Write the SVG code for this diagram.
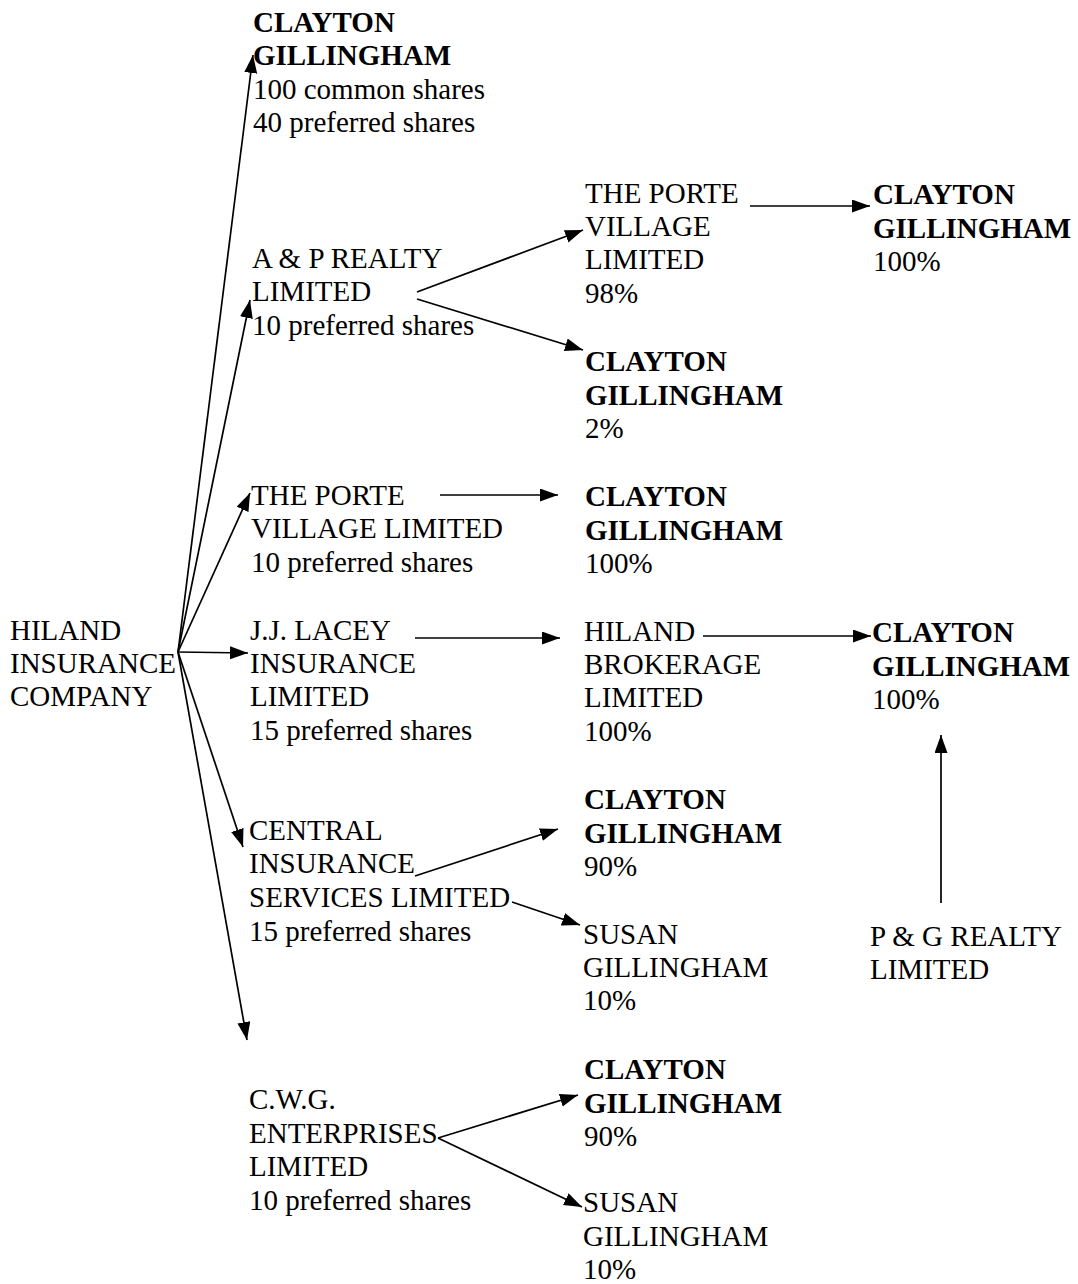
<svg xmlns="http://www.w3.org/2000/svg" width="1078" height="1284" viewBox="0 0 1078 1284">
<style>
text{font-family:"Liberation Serif","Times New Roman",serif;font-size:29px;fill:#000}
.b{font-weight:bold}
.c line{stroke:#000;stroke-width:1.7;marker-end:url(#ah)}
</style>
<defs>
<marker id="ah" markerUnits="userSpaceOnUse" markerWidth="19" markerHeight="14" refX="18" refY="6.5" orient="auto">
<path d="M0,0 L18,6.5 L0,13 z" fill="#000"/>
</marker>
</defs>
<rect width="1078" height="1284" fill="#fff"/>
<g class="c" id="connectors">
<line x1="178" y1="652" x2="253" y2="55"/>
<line x1="178" y1="652" x2="250" y2="300"/>
<line x1="178" y1="652" x2="250" y2="493"/>
<line x1="178" y1="652" x2="248" y2="653"/>
<line x1="178" y1="652" x2="243" y2="847"/>
<line x1="178" y1="652" x2="247" y2="1040"/>
<line x1="417" y1="292" x2="583" y2="230"/>
<line x1="417" y1="299" x2="583" y2="350"/>
<line x1="750" y1="206" x2="870" y2="206"/>
<line x1="440" y1="495" x2="558" y2="495"/>
<line x1="415" y1="638" x2="560" y2="638"/>
<line x1="703" y1="636" x2="871" y2="636"/>
<line x1="941" y1="903" x2="941" y2="735"/>
<line x1="415" y1="876" x2="558" y2="829"/>
<line x1="512" y1="902" x2="580" y2="925"/>
<line x1="438" y1="1138" x2="578" y2="1095"/>
<line x1="438" y1="1138" x2="582" y2="1207"/>
</g>
<g id="n-clayton-top"><text x="253" y="32" class="b">CLAYTON</text><text x="253" y="65" class="b">GILLINGHAM</text><text x="253" y="99">100 common shares</text><text x="253" y="132">40 preferred shares</text></g>
<g id="n-ap-realty"><text x="252" y="268">A &amp; P REALTY</text><text x="252" y="301">LIMITED</text><text x="252" y="335">10 preferred shares</text></g>
<g id="n-porte-98"><text x="585" y="203">THE PORTE</text><text x="585" y="236">VILLAGE</text><text x="585" y="269">LIMITED</text><text x="585" y="303">98%</text></g>
<g id="n-clayton-100a"><text x="873" y="204" class="b">CLAYTON</text><text x="873" y="238" class="b">GILLINGHAM</text><text x="873" y="271">100%</text></g>
<g id="n-clayton-2"><text x="585" y="371" class="b">CLAYTON</text><text x="585" y="405" class="b">GILLINGHAM</text><text x="585" y="438">2%</text></g>
<g id="n-porte-left"><text x="251" y="505">THE PORTE</text><text x="251" y="538">VILLAGE LIMITED</text><text x="251" y="572">10 preferred shares</text></g>
<g id="n-clayton-100b"><text x="585" y="506" class="b">CLAYTON</text><text x="585" y="540" class="b">GILLINGHAM</text><text x="585" y="573">100%</text></g>
<g id="n-hiland"><text x="10" y="640">HILAND</text><text x="10" y="673">INSURANCE</text><text x="10" y="706">COMPANY</text></g>
<g id="n-jjlacey"><text x="250" y="640">J.J. LACEY</text><text x="250" y="673">INSURANCE</text><text x="250" y="706">LIMITED</text><text x="250" y="740">15 preferred shares</text></g>
<g id="n-hiland-brokerage"><text x="584" y="641">HILAND</text><text x="584" y="674">BROKERAGE</text><text x="584" y="707">LIMITED</text><text x="584" y="741">100%</text></g>
<g id="n-clayton-100c"><text x="872" y="642" class="b">CLAYTON</text><text x="872" y="676" class="b">GILLINGHAM</text><text x="872" y="709">100%</text></g>
<g id="n-central"><text x="249" y="840">CENTRAL</text><text x="249" y="873">INSURANCE</text><text x="249" y="907">SERVICES LIMITED</text><text x="249" y="941">15 preferred shares</text></g>
<g id="n-clayton-90a"><text x="584" y="809" class="b">CLAYTON</text><text x="584" y="843" class="b">GILLINGHAM</text><text x="584" y="876">90%</text></g>
<g id="n-susan-a"><text x="583" y="944">SUSAN</text><text x="583" y="977">GILLINGHAM</text><text x="583" y="1010">10%</text></g>
<g id="n-pg-realty"><text x="870" y="946">P &amp; G REALTY</text><text x="870" y="979">LIMITED</text></g>
<g id="n-cwg"><text x="249" y="1109">C.W.G.</text><text x="249" y="1143">ENTERPRISES</text><text x="249" y="1176">LIMITED</text><text x="249" y="1210">10 preferred shares</text></g>
<g id="n-clayton-90b"><text x="584" y="1079" class="b">CLAYTON</text><text x="584" y="1113" class="b">GILLINGHAM</text><text x="584" y="1146">90%</text></g>
<g id="n-susan-b"><text x="583" y="1212">SUSAN</text><text x="583" y="1246">GILLINGHAM</text><text x="583" y="1279">10%</text></g>
</svg>
